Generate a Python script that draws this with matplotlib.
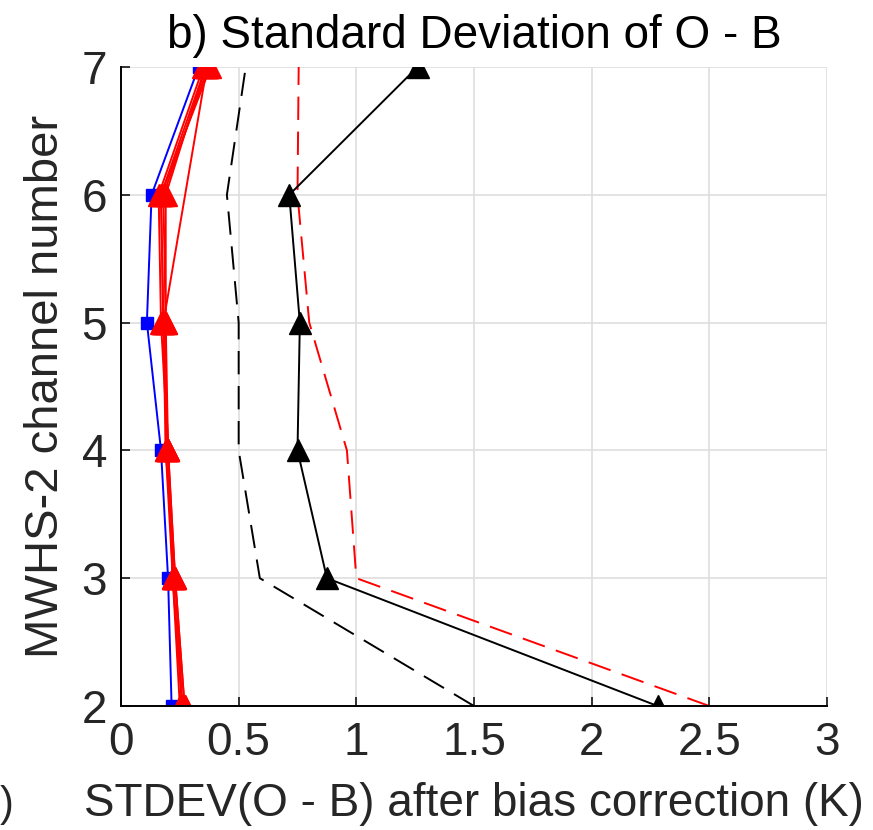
import numpy as np
import matplotlib
matplotlib.use('Agg')
import matplotlib.pyplot as plt

# channels on the y axis
channels = [2, 3, 4, 5, 6, 7]

# STDEV(O - B) after bias correction (K)
black_solid = [2.28, 0.875, 0.75, 0.76, 0.715, 1.26]
black_dashed = [1.50, 0.59, 0.50, 0.50, 0.45, 0.53]
red_dashed = [2.50, 1.00, 0.96, 0.80, 0.75, 0.755]
blue_sq = [0.215, 0.20, 0.17, 0.11, 0.13, 0.33]

# bundle of red runs (one has no channel 6 value)
red_runs = [
    [0.26, 0.23, 0.20, 0.18, 0.17, 0.36],
    [0.27, 0.23, 0.19, 0.19, 0.18, 0.37],
    [0.25, 0.22, 0.20, 0.17, 0.16, 0.35],
    [0.26, 0.22, 0.19, 0.18, 0.17, 0.38],
    [0.27, 0.23, 0.20, 0.19, 0.19, 0.36],
]
red_skip_channels = [2, 3, 4, 5, 7]
red_skip = [0.26, 0.22, 0.20, 0.18, 0.365]

xticks = [0, 0.5, 1, 1.5, 2, 2.5, 3]
xticklabels = ['0', '0.5', '1', '1.5', '2', '2.5', '3']

plt.rcParams['font.family'] = ['Liberation Sans', 'DejaVu Sans']
txt = '#262626'

fig = plt.figure(figsize=(8.73, 8.30), dpi=100)
ax = fig.add_axes([121 / 873, 1 - 706 / 830, (827 - 121) / 873, (706 - 67) / 830])

lw = 1.4
ax.plot(black_dashed, channels, color='black', lw=lw, dashes=(12, 6))
ax.plot(red_dashed, channels, color='red', lw=lw, dashes=(12, 6))
ax.plot(black_solid, channels, color='black', lw=lw, marker='^', ms=16)
ax.plot(blue_sq, channels, color='blue', lw=lw, marker='s', ms=8)
for run in red_runs:
    ax.plot(run, channels, color='red', lw=lw, marker='^', ms=16)
ax.plot(red_skip, red_skip_channels, color='red', lw=lw, marker='^', ms=16)

ax.set_xlim(0, 3)
ax.set_ylim(2, 7)
ax.set_xticks(xticks)
ax.set_xticklabels(xticklabels)
ax.set_yticks(channels)
ax.grid(True, color='#dedede', lw=1.2)
ax.set_axisbelow(True)

for side in ['top', 'right']:
    ax.spines[side].set_visible(False)
for side in ['left', 'bottom']:
    ax.spines[side].set_linewidth(1.4)
    ax.spines[side].set_color('black')

ax.tick_params(direction='in', length=6.5, width=1.1, labelsize=33,
               labelcolor=txt, color='black')
ax.tick_params(axis='x', pad=11)
ax.tick_params(axis='y', pad=10)

ax.set_xlabel('STDEV(O - B) after bias correction (K)', fontsize=33,
              color=txt, labelpad=12)
ax.set_ylabel('MWHS-2 channel number', fontsize=34, color=txt, labelpad=10)
ax.set_title('b) Standard Deviation of O - B', fontsize=33, color='black',
             pad=14)

# leftover from the neighbouring panel
fig.text(0, 1 - 805 / 830, ')', fontsize=30, color=txt,
         ha='left', va='center')

fig.savefig('out.png', dpi=100)
